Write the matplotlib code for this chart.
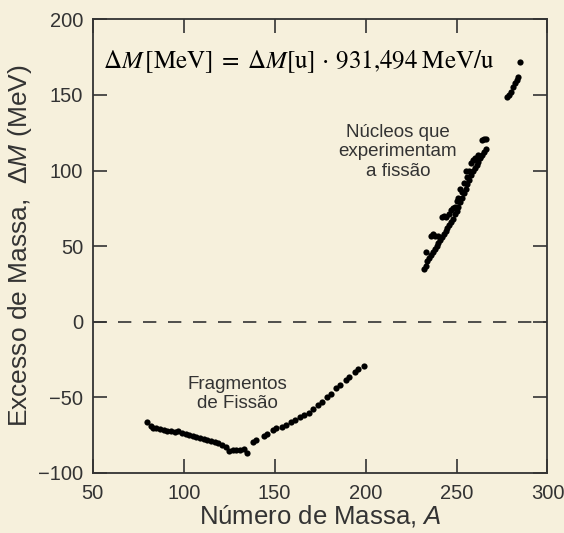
import matplotlib
matplotlib.use("Agg")
import matplotlib.pyplot as plt

# ---------------- data ----------------
frag_A = [80, 82, 83, 85, 87, 89, 91, 93, 95, 97, 99, 101, 103, 105, 107, 109, 111, 113, 115,
          117, 119, 121, 123, 125, 127, 129, 131, 133, 135,
          138, 140, 144, 146, 149, 151, 154, 156, 159, 161, 164, 166, 169, 171, 174, 176,
          179, 181, 184, 186, 189, 191, 194, 196, 199]
frag_dM = [-66.5, -69, -70, -70.5, -71, -71.5, -72, -72.5, -73, -72.5, -73.5, -74, -75, -75.5,
           -76, -77, -77.5, -78, -79, -79.5, -80, -81.5, -83, -85.5, -85, -84.5, -85, -84, -86.5,
           -79.5, -78.5, -75.5, -74.5, -71.5, -70.5, -69.5, -68.5, -66.5, -65, -63, -61.5, -60,
           -58, -55, -53, -49.5, -47.5, -44, -42, -38.5, -36.5, -33.5, -31.5, -29]

fis_A = [232, 233, 233, 234, 235, 236, 236, 237, 237, 238, 238, 239, 240, 240, 241, 242, 242,
         243, 243, 244, 244, 245, 246, 246, 247, 247, 248, 248, 249, 249, 250, 250, 251, 251,
         252, 252, 253, 253, 254, 254, 255, 255, 256, 256, 257, 257, 258, 258, 259, 259, 260,
         260, 261, 261, 262, 262, 263, 263, 264, 264, 265, 265, 266, 266]
fis_dM = [35, 37, 46, 40, 42, 44, 57, 46, 58, 48, 57, 50, 52, 57, 54, 56, 69, 58, 70, 60, 69,
          62, 64, 71, 66, 74, 68, 75, 71, 76, 73, 80, 76, 82, 79, 88, 82, 86, 85, 92, 88, 100,
          91, 96, 94, 100, 97, 105, 100, 107, 102, 108, 104, 107, 106, 110, 108, 109, 110, 120,
          112, 121, 114, 121]

sh_A = [278, 279, 280, 281, 282, 283, 284, 285]
sh_dM = [149, 150, 152, 155, 158, 160, 162, 171.5]

x_ticks = [50, 100, 150, 200, 250, 300]
y_ticks = [-100, -50, 0, 50, 100, 150, 200]

# ---------------- style ----------------
bg = "#F6F0DC"
ink = "#333333"
plt.rcParams["font.family"] = ["Liberation Sans", "DejaVu Sans"]
plt.rcParams["mathtext.fontset"] = "custom"
plt.rcParams["mathtext.rm"] = "Liberation Sans"
plt.rcParams["mathtext.it"] = "Liberation Sans:italic"

fig = plt.figure(figsize=(5.64, 5.33), dpi=100, facecolor=bg)
ax = fig.add_axes([0.1645, 0.1126, 0.8062, 0.851])
ax.set_facecolor(bg)

ax.axhline(0, color=ink, lw=1.2, dashes=(8, 7))

ax.scatter(frag_A, frag_dM, s=20, color="black", zorder=3, linewidths=0)
ax.scatter(fis_A, fis_dM, s=20, color="black", zorder=3, linewidths=0)
ax.scatter(sh_A, sh_dM, s=20, color="black", zorder=3, linewidths=0)

ax.set_xlim(50, 300)
ax.set_ylim(-100, 200)
ax.set_xticks(x_ticks)
ax.set_yticks(y_ticks)
ax.tick_params(direction="in", length=10, width=1.2, colors=ink, labelsize=14.5,
               top=True, right=True)
ax.tick_params(axis="x", pad=8)
ax.tick_params(axis="y", pad=7)
for sp in ax.spines.values():
    sp.set_color(ink)
    sp.set_linewidth(1.3)

ax.set_xlabel("Número de Massa, $\\mathit{A}$", fontsize=18.5, color=ink, labelpad=0)
ax.set_ylabel("Excesso de Massa,  Δ$\\mathit{M}$ (MeV)", fontsize=19, color=ink, labelpad=3)

ax.text(55.6, 171.8,
        r"$\Delta M\,[\mathrm{MeV}]\;=\;\Delta M[\mathrm{u}]\,\cdot\,931{,}494\;\mathrm{MeV/u}$",
        math_fontfamily="stix", fontsize=18, color="black", ha="left", va="center")

ax.text(217.8, 112.3, "Núcleos que\nexperimentam\na fissão", fontsize=13.5, color=ink,
        ha="center", va="center", linespacing=1.2)
ax.text(129.5, -47.8, "Fragmentos\nde Fissão", fontsize=13.5, color=ink,
        ha="center", va="center", linespacing=1.2)

fig.savefig("out.png", dpi=100, facecolor=bg)
